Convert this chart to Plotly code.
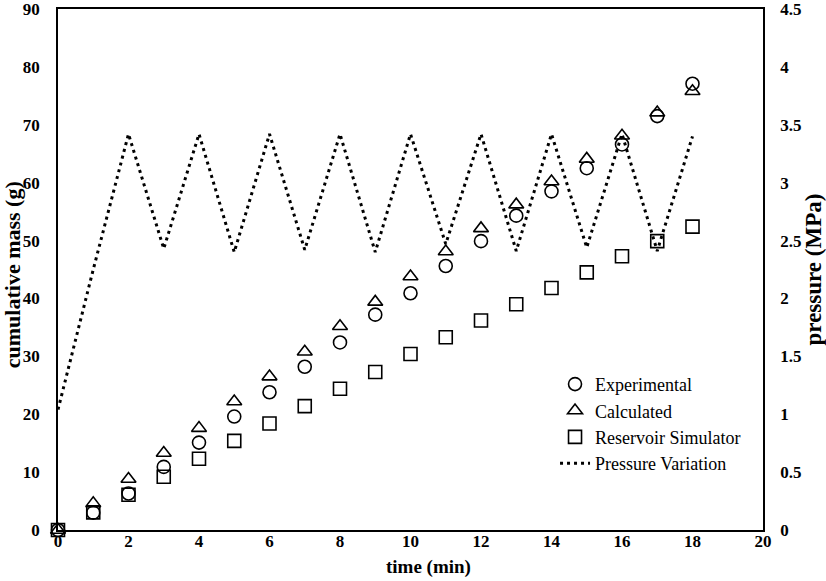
import plotly.graph_objects as go

time_min = list(range(0, 19))
experimental = [0, 3.0, 6.3, 10.9, 15.1, 19.6, 23.8, 28.2, 32.4, 37.2, 40.9, 45.6, 49.9, 54.3, 58.5, 62.5, 66.6, 71.5, 77.1]
calculated = [0, 4.6, 8.8, 13.3, 17.6, 22.2, 26.5, 30.8, 35.2, 39.4, 43.8, 48.1, 52.1, 56.2, 60.2, 64.1, 68.1, 72.1, 75.8]
simulator = [0, 3.05, 6.1, 9.2, 12.3, 15.4, 18.4, 21.4, 24.4, 27.3, 30.4, 33.3, 36.2, 39.0, 41.8, 44.5, 47.3, 49.9, 52.4]
pressure = [1.04, 2.25, 3.42, 2.43, 3.42, 2.40, 3.42, 2.42, 3.42, 2.40, 3.42, 2.47, 3.42, 2.41, 3.42, 2.44, 3.42, 2.41, 3.40]

x_title = "time (min)"
y_title = "cumulative mass (g)"
y2_title = "pressure (MPa)"

font_family = "Times New Roman, Liberation Serif, serif"
black = "#000000"

fig = go.Figure()

marker_common = dict(color=black, size=13, line=dict(color=black, width=1.6))

fig.add_trace(go.Scatter(x=time_min, y=experimental, mode="markers", name="Experimental", cliponaxis=False,
                         marker=dict(symbol="circle-open", **marker_common)))
fig.add_trace(go.Scatter(x=time_min, y=calculated, mode="markers", name="Calculated", cliponaxis=False,
                         marker=dict(symbol="triangle-up-open", **marker_common)))
fig.add_trace(go.Scatter(x=time_min, y=simulator, mode="markers", name="Reservoir Simulator", cliponaxis=False,
                         marker=dict(symbol="square-open", **marker_common)))
fig.add_trace(go.Scatter(x=time_min, y=pressure, mode="lines", name="Pressure Variation",
                         line=dict(color=black, width=3, dash="3px,4px"), yaxis="y2"))

tick_font = dict(family=font_family, size=17, color=black, weight="bold")

fig.update_layout(
    width=826, height=581,
    margin=dict(l=58, r=63, t=9, b=51),
    paper_bgcolor="white", plot_bgcolor="white",
    showlegend=True,
    legend=dict(x=0.705, y=0.315, xanchor="left", yanchor="top",
                font=dict(family=font_family, size=18, color=black),
                bgcolor="rgba(0,0,0,0)", tracegroupgap=0),
    xaxis=dict(range=[0, 20], dtick=2, tick0=0, showgrid=False, zeroline=False,
               showline=True, linecolor=black, linewidth=1.5, mirror=True, ticks="",
               tickfont=tick_font, automargin=False, ticklabelstandoff=-5, ticklabeloverflow="allow"),
    yaxis=dict(range=[0, 90], dtick=10, tick0=0, showgrid=False, zeroline=False,
               showline=True, linecolor=black, linewidth=1.5, ticks="",
               tickfont=tick_font, automargin=False, ticklabelstandoff=13, ticklabeloverflow="allow"),
    yaxis2=dict(range=[0, 4.5], dtick=0.5, tick0=0, overlaying="y", side="right",
                showgrid=False, zeroline=False, showline=True, linecolor=black, linewidth=1.5,
                ticks="", tickfont=tick_font, automargin=False, ticklabelstandoff=12, ticklabeloverflow="allow",
                title=dict(text=y2_title, font=dict(family=font_family, size=23, color=black, weight="bold"),
                           standoff=4)),
    annotations=[
        dict(text=x_title, xref="paper", yref="paper", x=0.525, y=0,
             xanchor="center", yanchor="middle", yshift=-37, showarrow=False,
             font=dict(family=font_family, size=19, color=black, weight="bold")),
        dict(text=y_title, xref="paper", yref="paper", x=0, y=0.489,
             xanchor="center", yanchor="middle", xshift=-46, textangle=-90, showarrow=False,
             font=dict(family=font_family, size=22, color=black, weight="bold")),
    ],
)

fig.write_html("out.html", post_script="document.body.style.margin='0px';",
               config={"displayModeBar": False})
